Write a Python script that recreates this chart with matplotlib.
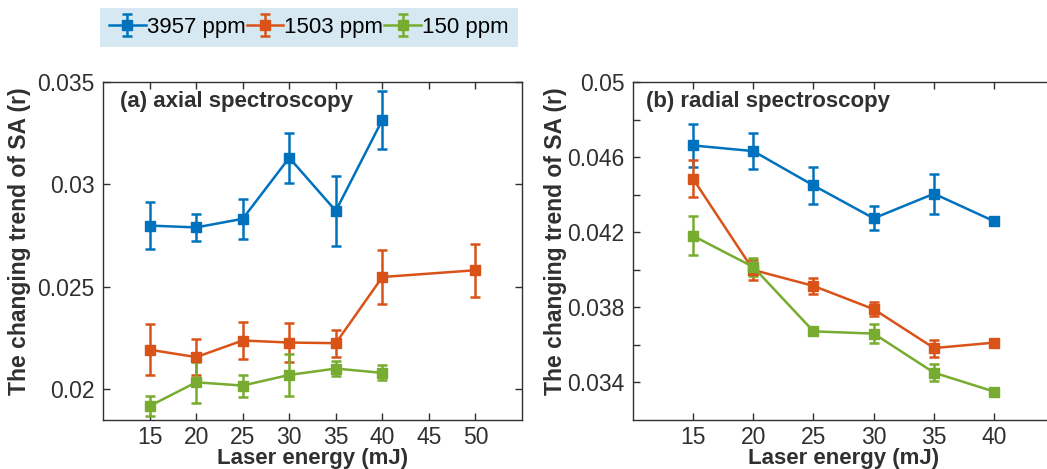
import numpy as np
import matplotlib
matplotlib.use("Agg")
import matplotlib.pyplot as plt

plt.rcParams['font.family'] = ['Liberation Sans', 'DejaVu Sans']
plt.rcParams['font.size'] = 16

# couleurs (MATLAB par défaut)
couleurs = ['#0072BD', '#D95319', '#77AC30']
etiquettes = ['3957 ppm', '1503 ppm', '150 ppm']

# (a) axial
x_axial = [[15, 20, 25, 30, 35, 40],
           [15, 20, 25, 30, 35, 40, 50],
           [15, 20, 25, 30, 35, 40]]
y_axial = [[0.02799, 0.02790, 0.02832, 0.03130, 0.02871, 0.03315],
           [0.02193, 0.02157, 0.02238, 0.02228, 0.02225, 0.02548, 0.02581],
           [0.01918, 0.02034, 0.02018, 0.02070, 0.02101, 0.02080]]
err_axial = [[0.00116, 0.00065, 0.00097, 0.00123, 0.00170, 0.00140],
             [0.00124, 0.00086, 0.00090, 0.00094, 0.00066, 0.00132, 0.00129],
             [0.00050, 0.00100, 0.00054, 0.00104, 0.00036, 0.00036]]

# (b) radial
x_radial = [[15, 20, 25, 30, 35, 40]] * 3
y_radial = [[0.04662, 0.04632, 0.04449, 0.04274, 0.04405, 0.04258],
            [0.04485, 0.03999, 0.03914, 0.03790, 0.03583, 0.03612],
            [0.04181, 0.04015, 0.03672, 0.03660, 0.03452, 0.03351]]
err_radial = [[0.00113, 0.00098, 0.00100, 0.00064, 0.00107, 0.00010],
              [0.00099, 0.00053, 0.00044, 0.00037, 0.00045, 0.00010],
              [0.00105, 0.00050, 0.00010, 0.00052, 0.00046, 0.00010]]

gris = '#303030'

fig = plt.figure(figsize=(10.47, 4.69), dpi=100)
ax1 = fig.add_axes([0.0984, 0.1045, 0.4002, 0.7207])
ax2 = fig.add_axes([0.6043, 0.1045, 0.4029, 0.7207])

def tracer(ax, xs, ys, es):
    poignees = []
    for x, y, e, c, lab in zip(xs, ys, es, couleurs, etiquettes):
        h = ax.errorbar(x, y, yerr=e, color=c, lw=1.8, elinewidth=1.8,
                        capsize=3.6, capthick=1.8, marker='s', ms=7,
                        label=lab)
        poignees.append(h)
    return poignees

poignees = tracer(ax1, x_axial, y_axial, err_axial)
tracer(ax2, x_radial, y_radial, err_radial)

ax1.set_xlim(10, 55)
ax1.set_ylim(0.0185, 0.035)
ax1.set_xticks([15, 20, 25, 30, 35, 40, 45, 50])
ax1.set_yticks([0.02, 0.025, 0.03, 0.035])
ax1.set_yticklabels(['0.02', '0.025', '0.03', '0.035'])

ax2.set_xlim(10, 45)
ax2.set_ylim(0.032, 0.05)
ax2.set_xticks([15, 20, 25, 30, 35, 40])
ax2.set_yticks(np.arange(0.034, 0.0501, 0.002))
ax2.set_yticklabels(['0.034', '', '0.038', '', '0.042', '', '0.046', '', '0.05'])

for ax, titre, tx, ylx in [(ax1, '(a) axial spectroscopy', 0.04, -0.172),
                           (ax2, '(b) radial spectroscopy', 0.031, -0.156)]:
    ax.tick_params(direction='in', top=True, right=True, length=5,
                   width=1, colors=gris, labelsize=16.5, pad=6)
    ax.tick_params(axis='x', pad=4)
    for s in ax.spines.values():
        s.set_color(gris)
        s.set_linewidth(1)
    ax.set_xlabel('Laser energy (mJ)', fontweight='bold', color=gris,
                  fontsize=16)
    ax.xaxis.label.set_va('bottom')
    ax.xaxis.set_label_coords(0.5, -0.144)
    ax.set_ylabel('The changing trend of SA (r)', fontweight='bold',
                  color=gris, fontsize=16.5)
    ax.yaxis.set_label_coords(ylx, 0.53)
    ax.text(tx, 0.942, titre, transform=ax.transAxes, fontsize=16,
            fontweight='bold', color=gris, va='center', ha='left')

leg = fig.legend(handles=poignees, labels=etiquettes, loc='upper left',
                 bbox_to_anchor=(100 / 1047, 1 - 8 / 469), ncol=3,
                 frameon=True, facecolor='#d6e9f2', edgecolor='none',
                 framealpha=1, fancybox=False, borderpad=0.4,
                 borderaxespad=0, handlelength=1.65, handletextpad=0.05,
                 columnspacing=0.05, fontsize=16)

fig.savefig('out.png', dpi=100)
